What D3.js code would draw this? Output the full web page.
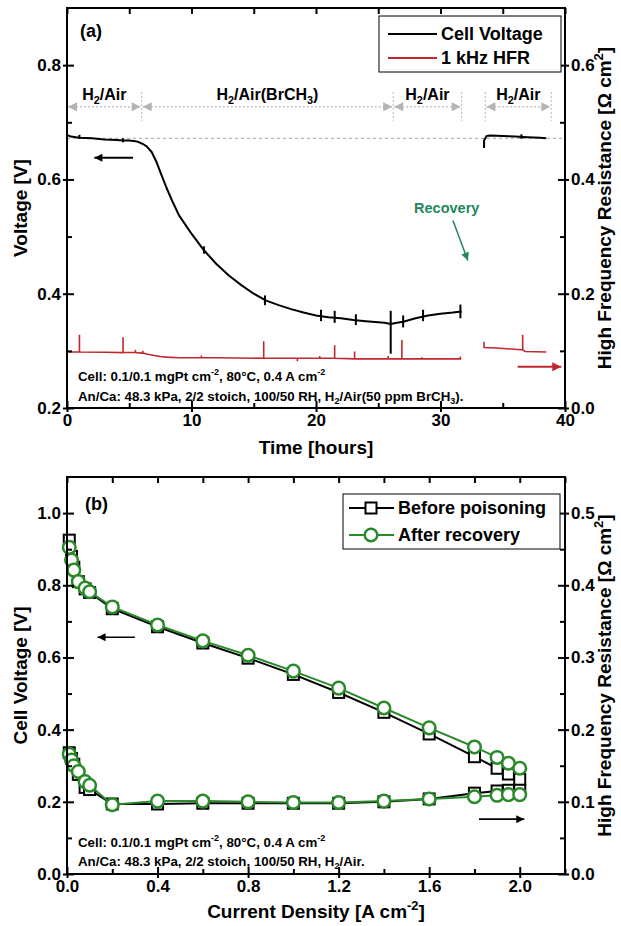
<!DOCTYPE html>
<html><head><meta charset="utf-8">
<script src="https://cdn.jsdelivr.net/npm/d3@7"></script>
<style>
body{margin:0;background:#fff}
svg{display:block}
text{font-family:"Liberation Sans",Arial,sans-serif;font-weight:bold;fill:#000}
</style>
</head><body>
<svg id="c" width="621" height="926"></svg>
<script>
// ---------- Panel (a) data ----------
const voltTime1 = [0, 0.3, 1, 2, 3, 4, 4.5, 5, 5.5, 5.8, 6.1, 6.4, 6.8, 7.2, 7.6, 8, 8.5, 9, 10, 11, 12, 13, 14, 15, 16, 17, 18, 19, 20, 21, 22, 23, 24, 25, 25.5, 26, 26.5, 27, 28, 29, 30, 31, 31.7];
const voltValues1 = [0.678, 0.675, 0.673, 0.672, 0.670, 0.669, 0.668, 0.668, 0.667, 0.665, 0.662, 0.658, 0.648, 0.630, 0.607, 0.585, 0.560, 0.537, 0.505, 0.476, 0.452, 0.432, 0.415, 0.400, 0.388, 0.380, 0.373, 0.367, 0.362, 0.359, 0.357, 0.354, 0.352, 0.350, 0.349, 0.347, 0.349, 0.351, 0.357, 0.362, 0.365, 0.367, 0.369];
const voltTime2 = [33.5, 33.5, 33.7, 34, 35, 36, 37, 38, 38.5];
const voltValues2 = [0.655, 0.668, 0.676, 0.677, 0.676, 0.675, 0.674, 0.673, 0.672];
// [time, low, high]
const voltSpikes = [[1.0,0.671,0.678],[4.5,0.665,0.672],[11.0,0.470,0.483],[15.9,0.380,0.397],[20.4,0.352,0.372],[21.5,0.349,0.370],[23.2,0.345,0.364],[26.0,0.295,0.370],[27.0,0.341,0.362],[28.6,0.352,0.372],[31.6,0.357,0.381],[36.5,0.671,0.679]];

const hfrTime1 = [0, 3, 5, 6, 6.5, 7, 7.5, 8, 9, 12, 16, 20, 24, 28, 31.6];
const hfrValues1 = [0.098, 0.0975, 0.097, 0.096, 0.094, 0.092, 0.090, 0.089, 0.088, 0.088, 0.087, 0.087, 0.086, 0.086, 0.086];
const hfrTime2 = [33.5, 33.5, 34.5, 36.5, 36.8, 38.5];
const hfrValues2 = [0.116, 0.106, 0.105, 0.102, 0.099, 0.098];
// [time, base, peak]
const hfrSpikes1 = [[1.0,0.098,0.128],[4.5,0.097,0.124],[5.5,0.097,0.102],[6.1,0.096,0.100],[10.8,0.088,0.092],[15.8,0.087,0.117],[18.5,0.087,0.082],[20.3,0.087,0.091],[21.5,0.087,0.110],[23.1,0.086,0.099],[25.8,0.086,0.091],[26.9,0.086,0.119],[28.5,0.086,0.089],[31.6,0.086,0.090]];
const hfrSpikes2 = [[36.6,0.102,0.128]];

const phases = [
  {label:[["H",null],["2","sub"],["/Air",null]], t0:0, t1:6.0},
  {label:[["H",null],["2","sub"],["/Air(BrCH",null],["3","sub"],[")",null]], t0:6.0, t1:26.2},
  {label:[["H",null],["2","sub"],["/Air",null]], t0:26.2, t1:31.7},
  {label:[["H",null],["2","sub"],["/Air",null]], t0:33.6, t1:38.9}
];
const phaseBounds = [6.0, 26.2, 31.7, 33.6, 38.9];
const baselineVoltage = 0.672;

const timeTicks = [0, 10, 20, 30, 40];
const timeMinor = [5, 15, 25, 35];
const voltTicksA = [0.2, 0.4, 0.6, 0.8];
const voltMinorA = [0.3, 0.5, 0.7];
const hfrTicksA = [0.0, 0.2, 0.4, 0.6];
const hfrMinorA = [0.1, 0.3, 0.5];

// ---------- Panel (b) data ----------
const currents = [0.01, 0.02, 0.03, 0.05, 0.08, 0.1, 0.2, 0.4, 0.6, 0.8, 1.0, 1.2, 1.4, 1.6, 1.8, 1.9, 1.95, 2.0];
const beforeV = [0.925, 0.880, 0.850, 0.810, 0.790, 0.780, 0.735, 0.685, 0.640, 0.598, 0.553, 0.503, 0.448, 0.388, 0.325, 0.293, 0.277, 0.262];
const afterV  = [0.905, 0.870, 0.842, 0.810, 0.792, 0.782, 0.740, 0.690, 0.646, 0.606, 0.562, 0.515, 0.460, 0.405, 0.352, 0.323, 0.307, 0.293];
const beforeHFR = [0.168, 0.160, 0.152, 0.138, 0.120, 0.117, 0.097, 0.097, 0.098, 0.098, 0.098, 0.098, 0.100, 0.104, 0.112, 0.115, 0.116, 0.116];
const afterHFR  = [0.166, 0.158, 0.150, 0.142, 0.128, 0.123, 0.096, 0.101, 0.101, 0.100, 0.099, 0.099, 0.101, 0.104, 0.107, 0.109, 0.110, 0.110];

const curTicks = [0.0, 0.4, 0.8, 1.2, 1.6, 2.0];
const curMinor = [0.2, 0.6, 1.0, 1.4, 1.8, 2.2];
const voltTicksB = [0.0, 0.2, 0.4, 0.6, 0.8, 1.0];
const voltMinorB = [0.1, 0.3, 0.5, 0.7, 0.9];
const hfrTicksB = [0.0, 0.1, 0.2, 0.3, 0.4, 0.5];
const hfrMinorB = [0.05, 0.15, 0.25, 0.35, 0.45];

// ---------- styles ----------
const RED = "#c0282e", GREEN = "#2a8a2a", TEAL = "#22885a", GRAY = "#b4b4b4";
const TICK_FS = 17, TITLE_FS = 19;

const svg = d3.select("#c");
const defs = svg.append("defs");
function marker(id, color, w, h) {
  defs.append("marker").attr("id", id).attr("viewBox", "0 0 10 10").attr("refX", 10).attr("refY", 5)
    .attr("markerWidth", w).attr("markerHeight", h).attr("markerUnits", "userSpaceOnUse").attr("orient", "auto-start-reverse")
    .append("path").attr("d", "M0,0L10,5L0,10Z").attr("fill", color);
}
marker("ahBlack", "#000", 12, 8);
marker("ahRed", RED, 13, 9);
marker("ahGreen", TEAL, 10, 8);
marker("ahGray", GRAY, 11, 9);

function rich(sel, parts, fs) {
  let pend = 0;
  parts.forEach(([s, kind]) => {
    const t = sel.append("tspan").text(s);
    let dy = pend;
    if (kind === "sub") { t.attr("font-size", fs * 0.68); dy += fs * 0.25; pend = -fs * 0.25; }
    else if (kind === "sup") { t.attr("font-size", fs * 0.68); dy += -fs * 0.42; pend = fs * 0.42; }
    else { t.attr("font-size", fs); pend = 0; }
    if (dy) t.attr("dy", dy);
  });
  return sel;
}

function frameAxes(g, x, y, yR, cfg) {
  const [L, R] = x.range(), [B, T] = y.range();
  const fmt = cfg.fmt;
  const bx = g.append("g").attr("transform", `translate(0,${B})`)
    .call(d3.axisBottom(x).tickValues(cfg.xt).tickFormat(cfg.xfmt).tickSize(-7).tickPadding(6));
  bx.selectAll(".tick line").attr("y1", 4);
  g.append("g").attr("transform", `translate(0,${B})`).call(d3.axisBottom(x).tickValues(cfg.xm).tickFormat("").tickSize(-5));
  g.append("g").attr("transform", `translate(0,${T})`).call(d3.axisTop(x).tickValues(cfg.xt.concat(cfg.xm)).tickFormat("").tickSize(-6));
  const ly = g.append("g").attr("transform", `translate(${L},0)`)
    .call(d3.axisLeft(y).tickValues(cfg.yt).tickFormat(fmt).tickSize(-7).tickPadding(6));
  ly.selectAll(".tick line").attr("x1", -4);
  g.append("g").attr("transform", `translate(${L},0)`).call(d3.axisLeft(y).tickValues(cfg.ym).tickFormat("").tickSize(-5));
  const ry = g.append("g").attr("transform", `translate(${R},0)`)
    .call(d3.axisRight(yR).tickValues(cfg.rt).tickFormat(fmt).tickSize(-7).tickPadding(6));
  ry.selectAll(".tick line").attr("x1", 4);
  g.append("g").attr("transform", `translate(${R},0)`).call(d3.axisRight(yR).tickValues(cfg.rm).tickFormat("").tickSize(-5));
  g.selectAll(".domain").remove();
  g.selectAll(".tick line").attr("stroke", "#000").attr("stroke-width", 2);
  g.selectAll(".tick text").attr("font-size", TICK_FS).attr("font-family", '"Liberation Sans",Arial,sans-serif').attr("font-weight", "bold").attr("fill", "#000");
  g.append("rect").attr("x", L).attr("y", T).attr("width", R - L).attr("height", B - T)
    .attr("fill", "none").attr("stroke", "#000").attr("stroke-width", 2);
}

// ================= Panel (a) =================
const xA = d3.scaleLinear().domain([0, 40]).range([67, 565]);
const yA = d3.scaleLinear().domain([0.2, 0.9]).range([408, 8]);
const rA = d3.scaleLinear().domain([0, 0.7]).range([408, 8]);
const gA = svg.append("g");

gA.append("line").attr("x1", xA(0)).attr("x2", xA(40)).attr("y1", yA(baselineVoltage)).attr("y2", yA(baselineVoltage))
  .attr("stroke", GRAY).attr("stroke-width", 1.2).attr("stroke-dasharray", "3,3");

const phaseY = yA(0.727), labelY = yA(0.739);
phases.forEach(p => {
  gA.append("line").attr("x1", xA(p.t0) + 1).attr("x2", xA(p.t1) - 1).attr("y1", phaseY).attr("y2", phaseY)
    .attr("stroke", GRAY).attr("stroke-width", 1.3).attr("stroke-dasharray", "2,2")
    .attr("marker-start", "url(#ahGray)").attr("marker-end", "url(#ahGray)");
  const t = gA.append("text").attr("x", xA((p.t0 + p.t1) / 2)).attr("y", labelY).attr("text-anchor", "middle").attr("font-size", 16);
  rich(t, p.label, 16);
});
phaseBounds.forEach(s => {
  gA.append("line").attr("x1", xA(s)).attr("x2", xA(s)).attr("y1", phaseY - 15).attr("y2", phaseY + 14)
    .attr("stroke", GRAY).attr("stroke-width", 1).attr("stroke-dasharray", "2,2");
});

function mergeHFR(times, vals, spikes) {
  const pts = times.map((t, i) => ({t, v: vals[i], o: 0}));
  spikes.forEach(([t, b, p]) => {
    pts.push({t, v: b, o: 1}); pts.push({t, v: p, o: 2}); pts.push({t, v: b, o: 3});
  });
  return pts.sort((a, b) => a.t - b.t || a.o - b.o);
}
const hfrLine = d3.line().x(d => xA(d.t)).y(d => rA(d.v));
[[hfrTime1, hfrValues1, hfrSpikes1], [hfrTime2, hfrValues2, hfrSpikes2]].forEach(([t, v, s]) => {
  gA.append("path").datum(mergeHFR(t, v, s)).attr("d", hfrLine).attr("fill", "none").attr("stroke", RED).attr("stroke-width", 1.6);
});

const vLine = d3.line().x(d => xA(d[0])).y(d => yA(d[1]));
[[voltTime1, voltValues1], [voltTime2, voltValues2]].forEach(([t, v]) => {
  gA.append("path").datum(t.map((d, i) => [d, v[i]])).attr("d", vLine)
    .attr("fill", "none").attr("stroke", "#000").attr("stroke-width", 2).attr("stroke-linejoin", "round");
});
gA.selectAll(".vspk").data(voltSpikes).enter().append("line")
  .attr("x1", d => xA(d[0])).attr("x2", d => xA(d[0])).attr("y1", d => yA(d[1])).attr("y2", d => yA(d[2]))
  .attr("stroke", "#000").attr("stroke-width", 2);

frameAxes(gA, xA, yA, rA, {xt: timeTicks, xm: timeMinor, xfmt: d3.format("d"), yt: voltTicksA, ym: voltMinorA, rt: hfrTicksA, rm: hfrMinorA, fmt: d3.format(".1f")});

gA.append("line").attr("x1", xA(5.3)).attr("x2", xA(2.2)).attr("y1", yA(0.638)).attr("y2", yA(0.638))
  .attr("stroke", "#000").attr("stroke-width", 2).attr("marker-end", "url(#ahBlack)");
gA.append("line").attr("x1", xA(36.2)).attr("x2", xA(39.7)).attr("y1", rA(0.072)).attr("y2", rA(0.072))
  .attr("stroke", RED).attr("stroke-width", 2).attr("marker-end", "url(#ahRed)");
gA.append("line").attr("x1", xA(31.0)).attr("x2", xA(32.2)).attr("y1", yA(0.528)).attr("y2", yA(0.458))
  .attr("stroke", TEAL).attr("stroke-width", 1.5).attr("marker-end", "url(#ahGreen)");
gA.append("text").attr("x", xA(30.5)).attr("y", yA(0.542)).attr("text-anchor", "middle").attr("font-size", 14.5).style("fill", TEAL).text("Recovery");

gA.append("text").attr("x", 80).attr("y", 37).attr("font-size", 18).text("(a)");

const lgA = gA.append("g");
lgA.append("rect").attr("x", 379).attr("y", 16).attr("width", 182).attr("height", 56).attr("fill", "#fff").attr("stroke", "#000").attr("stroke-width", 1);
[["Cell Voltage", "#000", 34], ["1 kHz HFR", RED, 58]].forEach(([s, c, yy]) => {
  lgA.append("line").attr("x1", 388).attr("x2", 437).attr("y1", yy).attr("y2", yy).attr("stroke", c).attr("stroke-width", 2.2);
  lgA.append("text").attr("x", 441).attr("y", yy + 6).attr("font-size", 18).text(s);
});

const NFS = 13.3;
rich(gA.append("text").attr("x", 78).attr("y", 381).attr("font-size", NFS),
  [["Cell: 0.1/0.1 mgPt cm", null], ["-2", "sup"], [", 80°C, 0.4 A cm", null], ["-2", "sup"]], NFS);
rich(gA.append("text").attr("x", 78).attr("y", 401).attr("font-size", NFS),
  [["An/Ca: 48.3 kPa, 2/2 stoich, 100/50 RH, H", null], ["2", "sub"], ["/Air(50 ppm BrCH", null], ["3", "sub"], [").", null]], NFS);

gA.append("text").attr("transform", `translate(27,${(8 + 408) / 2}) rotate(-90)`).attr("text-anchor", "middle").attr("font-size", TITLE_FS).text("Voltage [V]");
rich(gA.append("text").attr("transform", `translate(611,${(8 + 408) / 2}) rotate(-90)`).attr("text-anchor", "middle").attr("font-size", TITLE_FS),
  [["High Frequency Resistance [\u03A9 cm", null], ["2", "sup"], ["]", null]], TITLE_FS);
gA.append("text").attr("x", (67 + 565) / 2).attr("y", 454).attr("text-anchor", "middle").attr("font-size", TITLE_FS).text("Time [hours]");

// ================= Panel (b) =================
const xB = d3.scaleLinear().domain([0, 2.2]).range([67, 565]);
const yB = d3.scaleLinear().domain([0, 1.1]).range([874, 477]);
const rB = d3.scaleLinear().domain([0, 0.55]).range([874, 477]);
const gB = svg.append("g");

function series(vals, yScale, color, shape) {
  const pts = currents.map((c, i) => [c, vals[i]]);
  const gen = d3.line().x(d => xB(d[0])).y(d => yScale(d[1]));
  gB.append("path").datum(pts).attr("d", gen).attr("fill", "none").attr("stroke", color).attr("stroke-width", 2);
  if (shape === "square") {
    gB.selectAll(null).data(pts).enter().append("rect")
      .attr("x", d => xB(d[0]) - 5.5).attr("y", d => yScale(d[1]) - 5.5).attr("width", 11).attr("height", 11)
      .attr("fill", "#fff").attr("stroke", color).attr("stroke-width", 2);
  } else {
    gB.selectAll(null).data(pts).enter().append("circle")
      .attr("cx", d => xB(d[0])).attr("cy", d => yScale(d[1])).attr("r", 6.3)
      .attr("fill", "#fff").attr("stroke", color).attr("stroke-width", 2.5);
  }
}
series(beforeV, yB, "#000", "square");
series(beforeHFR, rB, "#000", "square");
series(afterV, yB, GREEN, "circle");
series(afterHFR, rB, GREEN, "circle");

frameAxes(gB, xB, yB, rB, {xt: curTicks, xm: curMinor, xfmt: d3.format(".1f"), yt: voltTicksB, ym: voltMinorB, rt: hfrTicksB, rm: hfrMinorB, fmt: d3.format(".1f")});

gB.append("line").attr("x1", xB(0.3)).attr("x2", xB(0.135)).attr("y1", yB(0.656)).attr("y2", yB(0.656))
  .attr("stroke", "#000").attr("stroke-width", 1.6).attr("marker-end", "url(#ahBlack)");
gB.append("line").attr("x1", xB(1.82)).attr("x2", xB(2.02)).attr("y1", rB(0.076)).attr("y2", rB(0.076))
  .attr("stroke", "#000").attr("stroke-width", 1.6).attr("marker-end", "url(#ahBlack)");

gB.append("text").attr("x", 85).attr("y", 510).attr("font-size", 18).text("(b)");

const lgB = gB.append("g");
lgB.append("rect").attr("x", 343).attr("y", 494).attr("width", 217).attr("height", 55).attr("fill", "#fff").attr("stroke", "#000").attr("stroke-width", 1);
[["Before poisoning", "#000", 508, "square"], ["After recovery", GREEN, 535, "circle"]].forEach(([s, c, yy, sh]) => {
  lgB.append("line").attr("x1", 349).attr("x2", 394).attr("y1", yy).attr("y2", yy).attr("stroke", c).attr("stroke-width", 2);
  if (sh === "square") lgB.append("rect").attr("x", 371 - 5.5).attr("y", yy - 5.5).attr("width", 11).attr("height", 11).attr("fill", "#fff").attr("stroke", c).attr("stroke-width", 2);
  else lgB.append("circle").attr("cx", 371).attr("cy", yy).attr("r", 6.3).attr("fill", "#fff").attr("stroke", c).attr("stroke-width", 2.5);
  lgB.append("text").attr("x", 398).attr("y", yy + 6).attr("font-size", 18).text(s);
});

rich(gB.append("text").attr("x", 78).attr("y", 847).attr("font-size", NFS),
  [["Cell: 0.1/0.1 mgPt cm", null], ["-2", "sup"], [", 80°C, 0.4 A cm", null], ["-2", "sup"]], NFS);
rich(gB.append("text").attr("x", 78).attr("y", 866).attr("font-size", NFS),
  [["An/Ca: 48.3 kPa, 2/2 stoich, 100/50 RH, H", null], ["2", "sub"], ["/Air.", null]], NFS);

gB.append("text").attr("transform", `translate(27,${(477 + 874) / 2}) rotate(-90)`).attr("text-anchor", "middle").attr("font-size", TITLE_FS).text("Cell Voltage [V]");
rich(gB.append("text").attr("transform", `translate(611,${(477 + 874) / 2}) rotate(-90)`).attr("text-anchor", "middle").attr("font-size", TITLE_FS),
  [["High Frequency Resistance [\u03A9 cm", null], ["2", "sup"], ["]", null]], TITLE_FS);
rich(gB.append("text").attr("x", (67 + 565) / 2).attr("y", 918).attr("text-anchor", "middle").attr("font-size", TITLE_FS),
  [["Current Density [A cm", null], ["-2", "sup"], ["]", null]], TITLE_FS);
</script>
</body></html>
